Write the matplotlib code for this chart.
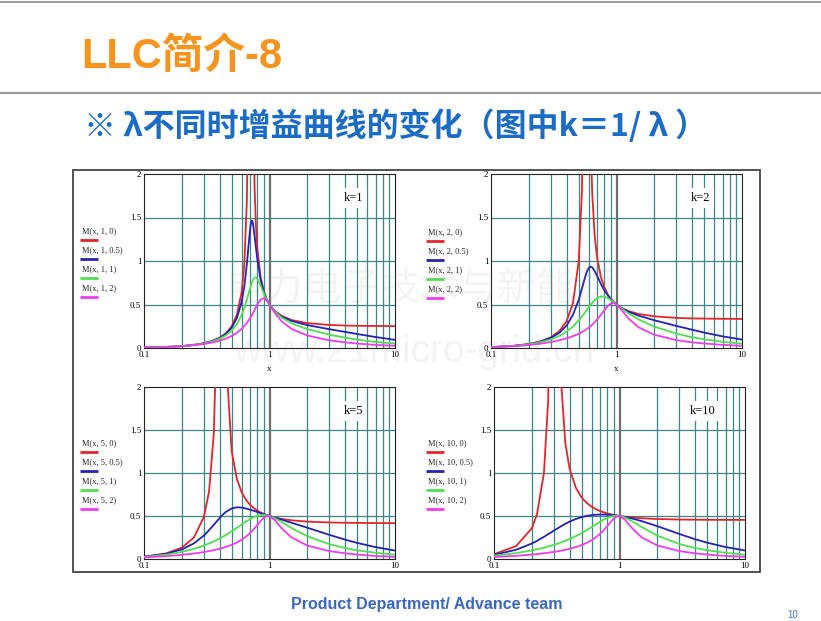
import matplotlib.pyplot as plt
from matplotlib.lines import Line2D
from matplotlib.patches import Rectangle

# ---- data: gain M(x, k, Q) of the four Mathcad plots ----
q_labels = ["0", "0.5", "1", "2"]
k_values = [1, 2, 5, 10]

x_k1 = [0.1, 0.15, 0.2, 0.25, 0.3, 0.35, 0.4, 0.45, 0.5, 0.55, 0.6, 0.63, 0.66, 0.68,
        0.7, 0.71, 0.72, 0.73, 0.74, 0.76, 0.78, 0.8, 0.85, 0.9, 0.95, 1.0, 1.1, 1.25,
        1.5, 2, 3, 4, 5, 7, 10]
m_k1_q0 = [0.005, 0.012, 0.022, 0.036, 0.055, 0.081, 0.118, 0.170, 0.250, 0.383, 0.643,
           0.962, 1.69, 3.07, 12.25, 30.7, 7.04, 4.05, 2.88, 1.86, 1.40, 1.14, 0.812, 0.653,
           0.561, 0.5, 0.426, 0.368, 0.321, 0.286, 0.265, 0.258, 0.255, 0.253, 0.251]
m_k1_q05 = [0.005, 0.012, 0.022, 0.035, 0.054, 0.080, 0.114, 0.163, 0.234, 0.345, 0.530,
            0.708, 0.962, 1.17, 1.36, 1.43, 1.46, 1.46, 1.42, 1.29, 1.15, 1.02, 0.785, 0.647,
            0.560, 0.5, 0.425, 0.363, 0.311, 0.263, 0.216, 0.185, 0.161, 0.126, 0.094]
m_k1_q1 = [0.005, 0.012, 0.021, 0.035, 0.052, 0.075, 0.106, 0.146, 0.200, 0.275, 0.379,
           0.459, 0.553, 0.619, 0.685, 0.716, 0.743, 0.767, 0.787, 0.810, 0.812, 0.797, 0.717,
           0.630, 0.557, 0.5, 0.421, 0.349, 0.283, 0.217, 0.153, 0.119, 0.096, 0.070, 0.050]
m_k1_q2 = [0.005, 0.011, 0.020, 0.032, 0.046, 0.063, 0.084, 0.109, 0.139, 0.175, 0.220,
           0.252, 0.288, 0.315, 0.343, 0.358, 0.373, 0.389, 0.405, 0.437, 0.469, 0.500, 0.557,
           0.572, 0.546, 0.5, 0.405, 0.307, 0.219, 0.144, 0.088, 0.065, 0.051, 0.036, 0.025]

x_k2 = [0.1, 0.15, 0.2, 0.25, 0.3, 0.35, 0.4, 0.45, 0.5, 0.53, 0.55, 0.57, 0.58, 0.59,
        0.6, 0.62, 0.64, 0.67, 0.7, 0.75, 0.8, 0.85, 0.9, 0.95, 1.0, 1.1, 1.25, 1.5, 2, 3,
        4, 5, 7, 10]
m_k2_q0 = [0.010, 0.024, 0.045, 0.077, 0.123, 0.194, 0.308, 0.516, 1.00, 1.79, 3.27, 12.8,
           36.6, 7.86, 4.50, 2.51, 1.79, 1.29, 1.04, 0.818, 0.696, 0.619, 0.566, 0.529, 0.5,
           0.460, 0.424, 0.391, 0.364, 0.346, 0.340, 0.338, 0.336, 0.334]
m_k2_q05 = [0.010, 0.024, 0.044, 0.074, 0.116, 0.174, 0.258, 0.381, 0.555, 0.681, 0.766,
            0.843, 0.874, 0.899, 0.918, 0.935, 0.927, 0.886, 0.830, 0.738, 0.664, 0.607,
            0.562, 0.528, 0.5, 0.458, 0.416, 0.372, 0.319, 0.254, 0.210, 0.177, 0.134, 0.097]
m_k2_q1 = [0.010, 0.023, 0.042, 0.067, 0.099, 0.139, 0.188, 0.248, 0.316, 0.361, 0.391,
           0.422, 0.437, 0.452, 0.466, 0.494, 0.519, 0.550, 0.573, 0.592, 0.590, 0.574,
           0.551, 0.526, 0.5, 0.453, 0.396, 0.328, 0.246, 0.165, 0.124, 0.100, 0.071, 0.050]
m_k2_q2 = [0.010, 0.020, 0.034, 0.050, 0.069, 0.089, 0.111, 0.136, 0.164, 0.183, 0.197,
           0.211, 0.219, 0.226, 0.234, 0.251, 0.268, 0.296, 0.326, 0.380, 0.434, 0.481,
           0.511, 0.517, 0.5, 0.434, 0.337, 0.238, 0.152, 0.091, 0.065, 0.052, 0.036, 0.025]

x_k5 = [0.1, 0.15, 0.2, 0.25, 0.3, 0.33, 0.36, 0.38, 0.39, 0.4, 0.41, 0.42, 0.43, 0.45,
        0.5, 0.55, 0.6, 0.65, 0.7, 0.75, 0.8, 0.85, 0.9, 0.95, 1.0, 1.1, 1.25, 1.5, 2, 3,
        4, 5, 7, 10]
m_k5_q0 = [0.027, 0.065, 0.132, 0.250, 0.489, 0.786, 1.46, 2.70, 4.35, 10.0, 48.9, 7.55,
           4.23, 2.35, 1.25, 0.928, 0.776, 0.688, 0.631, 0.592, 0.563, 0.542, 0.525, 0.511,
           0.5, 0.483, 0.466, 0.450, 0.435, 0.425, 0.421, 0.420, 0.418, 0.417]
m_k5_q05 = [0.026, 0.060, 0.111, 0.182, 0.273, 0.335, 0.398, 0.438, 0.457, 0.476, 0.493,
            0.509, 0.523, 0.549, 0.588, 0.601, 0.598, 0.587, 0.574, 0.560, 0.546, 0.533,
            0.521, 0.510, 0.5, 0.481, 0.457, 0.421, 0.364, 0.281, 0.225, 0.187, 0.138, 0.098]
m_k5_q1 = [0.024, 0.050, 0.082, 0.118, 0.156, 0.180, 0.205, 0.221, 0.230, 0.238, 0.246,
           0.255, 0.263, 0.280, 0.322, 0.363, 0.401, 0.436, 0.465, 0.487, 0.503, 0.511,
           0.512, 0.508, 0.5, 0.475, 0.430, 0.360, 0.265, 0.172, 0.127, 0.101, 0.072, 0.050]
m_k5_q2 = [0.018, 0.033, 0.048, 0.064, 0.081, 0.092, 0.103, 0.111, 0.115, 0.119, 0.123,
           0.128, 0.132, 0.141, 0.165, 0.193, 0.224, 0.260, 0.302, 0.347, 0.396, 0.442,
           0.480, 0.500, 0.5, 0.453, 0.357, 0.250, 0.156, 0.092, 0.066, 0.052, 0.036, 0.025]

x_k10 = [0.1, 0.15, 0.2, 0.22, 0.25, 0.27, 0.285, 0.295, 0.305, 0.31, 0.32, 0.34, 0.37,
         0.4, 0.45, 0.5, 0.55, 0.6, 0.65, 0.7, 0.75, 0.8, 0.85, 0.9, 0.95, 1.0, 1.1, 1.25,
         1.5, 2, 3, 4, 5, 7, 10]
m_k10_q0 = [0.056, 0.150, 0.357, 0.518, 1.00, 1.84, 3.81, 10.2, 20.0, 8.41, 4.05, 2.13,
            1.35, 1.05, 0.825, 0.714, 0.650, 0.608, 0.579, 0.558, 0.542, 0.530, 0.520,
            0.512, 0.506, 0.5, 0.492, 0.483, 0.474, 0.465, 0.459, 0.457, 0.456, 0.455, 0.455]
m_k10_q05 = [0.049, 0.107, 0.180, 0.211, 0.258, 0.288, 0.309, 0.323, 0.336, 0.343, 0.355,
             0.378, 0.409, 0.434, 0.466, 0.487, 0.502, 0.510, 0.515, 0.517, 0.517, 0.515,
             0.513, 0.509, 0.505, 0.5, 0.489, 0.472, 0.441, 0.382, 0.291, 0.230, 0.190,
             0.139, 0.099]
m_k10_q1 = [0.038, 0.068, 0.100, 0.113, 0.132, 0.145, 0.155, 0.162, 0.168, 0.171, 0.178,
            0.191, 0.212, 0.232, 0.267, 0.302, 0.337, 0.371, 0.404, 0.433, 0.458, 0.478,
            0.492, 0.500, 0.503, 0.5, 0.483, 0.443, 0.372, 0.271, 0.174, 0.128, 0.102,
            0.072, 0.050]
m_k10_q2 = [0.023, 0.037, 0.052, 0.057, 0.067, 0.073, 0.078, 0.081, 0.084, 0.086, 0.089,
            0.096, 0.107, 0.118, 0.139, 0.162, 0.189, 0.219, 0.253, 0.292, 0.336, 0.383,
            0.430, 0.470, 0.495, 0.5, 0.460, 0.364, 0.253, 0.157, 0.092, 0.066, 0.052,
            0.036, 0.025]

x_ticks = [0.1, 1, 10]
y_ticks = [0, 0.5, 1, 1.5, 2]

# ---- layout (pixel positions on the 821x621 slide) ----
W, H = 821, 621
CURVE_COLORS = ["#E3262B", "#2323B5", "#4FE04F", "#F03CF0"]
GRID_COLOR = "#3F8787"
SERIF = "Liberation Serif"


def fx(px):
    return px / W


def fy(py):
    return 1 - py / H


def hline(y, x0, x1, color, lw):
    fig.add_artist(Line2D([fx(x0), fx(x1)], [fy(y), fy(y)], transform=fig.transFigure,
                          color=color, lw=lw, solid_capstyle="butt"))


fig = plt.figure(figsize=(8.21, 6.21), dpi=100)
fig.patch.set_facecolor("white")

# slide decorations
hline(2, 0, W, "#8a8a8a", 1.2)
hline(93, 0, W, "#9a9a9a", 1.6)
fig.text(fx(81), fy(57), "LLC简介-8", color="#F7941D", fontsize=30, fontweight="bold",
         family=["Liberation Sans", "Noto Sans CJK SC"], va="center", ha="left")
fig.text(fx(84), fy(126), "※ λ不同时增益曲线的变化（图中k＝1/ λ ）", color="#1A6CC6",
         fontsize=23, fontweight="bold", family=["Noto Sans CJK SC", "DejaVu Sans"],
         va="center", ha="left")
fig.text(fx(427), fy(604), "Product Department/ Advance team", color="#3A66C4",
         fontsize=11.5, fontweight="bold", family="Liberation Sans", ha="center", va="center")
fig.text(fx(793), fy(615), "10", color="#4472C4", fontsize=7, family="Liberation Sans",
         ha="center", va="center")

# frame around the Mathcad region
fig.add_artist(Rectangle((fx(73), fy(572)), fx(760) - fx(73), (572 - 170) / H,
                         transform=fig.transFigure, fill=False, ec="#444444", lw=1.3))

panels = [
    (x_k1, [m_k1_q0, m_k1_q05, m_k1_q1, m_k1_q2], (144, 174, 395, 348), (82, 231), True),
    (x_k2, [m_k2_q0, m_k2_q05, m_k2_q1, m_k2_q2], (491, 174, 742, 348), (428, 232), True),
    (x_k5, [m_k5_q0, m_k5_q05, m_k5_q1, m_k5_q2], (144, 387, 395, 559), (82, 443), False),
    (x_k10, [m_k10_q0, m_k10_q05, m_k10_q1, m_k10_q2], (494, 387, 745, 559), (428, 443), False),
]

minor_x = [0.2, 0.3, 0.4, 0.5, 0.6, 0.7, 0.8, 0.9, 2, 3, 4, 5, 6, 7, 8, 9]

for k, (xs, series, box, leg, show_xlabel) in zip(k_values, panels):
    l, t, r, b = box
    ax = fig.add_axes([fx(l), fy(b), (r - l) / W, (b - t) / H])
    ax.set_xscale("log")
    ax.set_xlim(0.1, 10)
    ax.set_ylim(0, 2)

    for xv in minor_x:
        ax.axvline(xv, color=GRID_COLOR, lw=0.9, zorder=1)
    ax.axvline(1, color="#6e6e6e", lw=1.6, zorder=1)
    for yv in y_ticks[1:-1]:
        ax.axhline(yv, color=GRID_COLOR, lw=0.9, zorder=1)

    for ys, c in zip(series, CURVE_COLORS):
        ax.plot(xs, ys, color=c, lw=1.3, zorder=3)

    ax.set_xticks(x_ticks)
    ax.set_xticklabels(["0.1", "1", "10"])
    ax.set_xticks([], minor=True)
    ax.set_yticks(y_ticks)
    ax.set_yticklabels(["0", "0.5", "1", "1.5", "2"])
    ax.tick_params(length=0, pad=2, labelsize=6.5)
    for lab in ax.get_xticklabels() + ax.get_yticklabels():
        lab.set_family(SERIF)
    for sp in ax.spines.values():
        sp.set_color("#222222")
        sp.set_linewidth(0.8)

    if show_xlabel:
        ax.text(0.5, -0.12, "x", transform=ax.transAxes, ha="center", va="center",
                family=SERIF, fontsize=6.5)

    ax.text(0.833, 0.86, f"k={k}", transform=ax.transAxes, ha="center", va="center",
            family=SERIF, fontsize=9, zorder=5,
            bbox=dict(fc="white", ec="none", pad=3))

    # legend at the left of each plot
    lx, ly = leg
    for i, (q, c) in enumerate(zip(q_labels, CURVE_COLORS)):
        ty = ly + i * 19
        fig.text(fx(lx), fy(ty), f"M(x, {k}, {q})", family=SERIF, fontsize=6,
                 ha="left", va="center", color="#222222")
        hline(ty + 9, lx - 2, lx + 16, c, 2)

# faint watermark
fig.text(fx(420), fy(290), "电力电子技术与新能源", family="Noto Sans CJK SC", fontsize=28,
         color="#909090", alpha=0.1, ha="center", va="center", zorder=20)
fig.text(fx(414), fy(352), "www.21micro-grid.cn", family="Liberation Sans", fontsize=28,
         color="#909090", alpha=0.1, ha="center", va="center", zorder=20)

fig.savefig("out.png", dpi=100)
